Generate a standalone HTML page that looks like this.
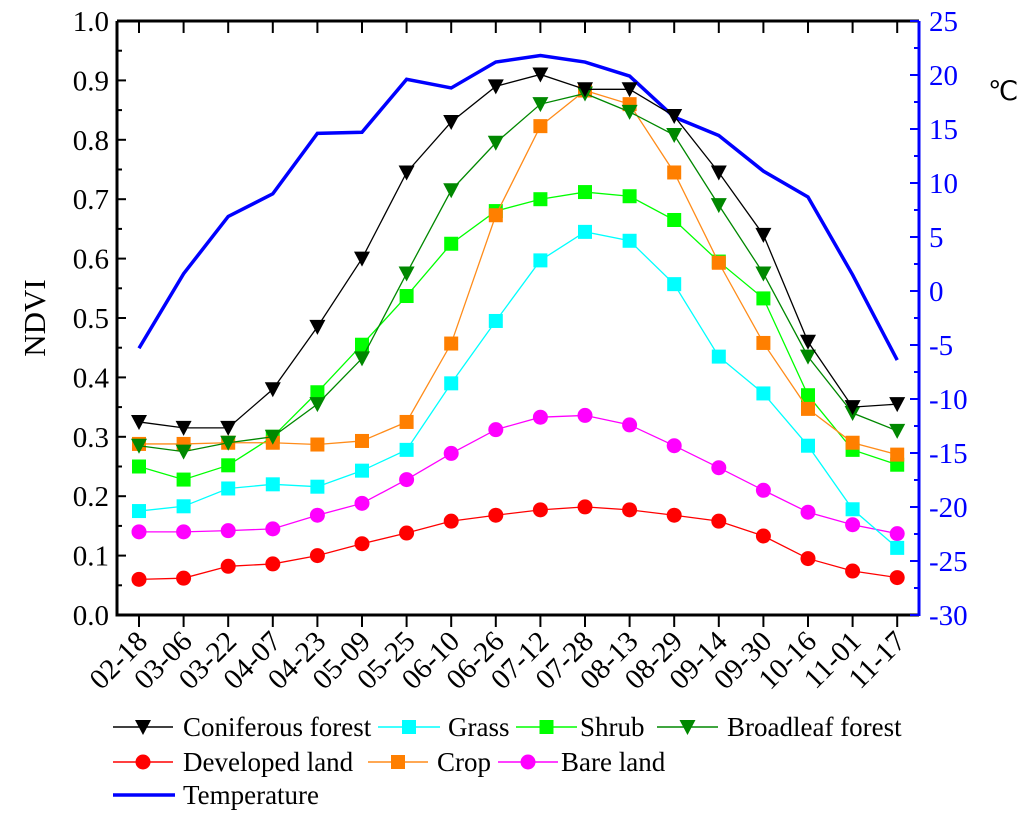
<!DOCTYPE html>
<html><head><meta charset="utf-8"><style>
body{margin:0;background:#fff}
svg, svg text{font-family:"Liberation Serif","Times New Roman",Times,serif}
</style></head><body>
<svg id="chart" width="1024" height="816" viewBox="0 0 1024 816" xmlns="http://www.w3.org/2000/svg" font-family="Liberation Serif, Times New Roman, serif"></svg>
<script>
const categories=["02-18","03-06","03-22","04-07","04-23","05-09","05-25","06-10","06-26","07-12","07-28","08-13","08-29","09-14","09-30","10-16","11-01","11-17"];
const coniferous=[0.325,0.315,0.315,0.38,0.485,0.60,0.745,0.83,0.89,0.91,0.885,0.885,0.84,0.745,0.64,0.46,0.35,0.355];
const grass=[0.175,0.183,0.213,0.22,0.216,0.243,0.278,0.39,0.495,0.597,0.645,0.63,0.557,0.435,0.373,0.285,0.178,0.113];
const shrub=[0.25,0.228,0.252,0.30,0.375,0.455,0.537,0.625,0.68,0.70,0.712,0.705,0.665,0.595,0.533,0.37,0.278,0.253];
const broadleaf=[0.285,0.275,0.29,0.30,0.355,0.432,0.575,0.715,0.795,0.86,0.878,0.847,0.808,0.69,0.575,0.435,0.34,0.31];
const developed=[0.06,0.062,0.082,0.086,0.10,0.12,0.138,0.158,0.168,0.177,0.182,0.177,0.168,0.158,0.133,0.095,0.074,0.063];
const crop=[0.288,0.288,0.29,0.29,0.287,0.293,0.325,0.457,0.673,0.823,0.883,0.86,0.745,0.593,0.458,0.347,0.29,0.27];
const bare=[0.14,0.14,0.142,0.145,0.168,0.188,0.228,0.272,0.312,0.333,0.336,0.32,0.285,0.248,0.21,0.173,0.152,0.137];
const temperature=[-5.3,1.6,6.9,9.0,14.6,14.7,19.6,18.8,21.2,21.8,21.2,19.9,16.1,14.4,11.1,8.7,1.5,-6.4];
const leftTicks=["0.0","0.1","0.2","0.3","0.4","0.5","0.6","0.7","0.8","0.9","1.0"];
const rightTicks=["-30","-25","-20","-15","-10","-5","0","5","10","15","20","25"];

const svg=document.getElementById('chart');
const NS='http://www.w3.org/2000/svg';
const FF='Liberation Serif, Times New Roman, serif';
const L=117,R=919,T=21,B=615;
const x=i=>139+i*44.6;
const y=v=>B-(v/1.0)*(B-T);
const yr=v=>B-((v+30)/55)*(B-T);
function mk(tag,attrs,parent){const e=document.createElementNS(NS,tag);for(const k in attrs)e.setAttribute(k,attrs[k]);if(tag==='text')e.setAttribute('font-family',FF);(parent||svg).appendChild(e);return e;}

const frame=mk('path',{d:`M${L},${T}H${R}M${L},${T}V${B}H${R}`,stroke:'#000','stroke-width':3,fill:'none'});


const rAxis=mk('line',{x1:R,y1:T,x2:R,y2:B+1,stroke:'#00f','stroke-width':3});



leftTicks.forEach((t,i)=>{const v=i/10;const yy=y(v);
 mk('line',{x1:L,y1:yy,x2:L+9,y2:yy,stroke:'#000','stroke-width':2});
 if(i<10){mk('line',{x1:L,y1:y(v+0.05),x2:L+5,y2:y(v+0.05),stroke:'#000','stroke-width':2});}
 const tx=mk('text',{x:L-8,y:yy+10,'text-anchor':'end','font-size':29});tx.textContent=t;
 
 
});
rightTicks.forEach((t,i)=>{const v=-30+i*5;const yy=yr(v);
 mk('line',{x1:R,y1:yy,x2:R-9,y2:yy,stroke:'#00f','stroke-width':2});
 if(i<11){mk('line',{x1:R,y1:yr(v+2.5),x2:R-5,y2:yr(v+2.5),stroke:'#00f','stroke-width':2});}
 const tx=mk('text',{x:R+10,y:yy+10,'font-size':29,fill:'#00f'});tx.textContent=t;
 
 
});
categories.forEach((c,i)=>{const xx=x(i);
 mk('line',{x1:xx,y1:B,x2:xx,y2:B+12,stroke:'#000','stroke-width':2});
 mk('line',{x1:xx,y1:T,x2:xx,y2:T+12,stroke:'#000','stroke-width':2});
 const tx=mk('text',{x:xx+10,y:B+28,'text-anchor':'end','font-size':29,transform:`rotate(-45 ${xx+10} ${B+28})`});tx.textContent=c;
 
 
});
const yl=mk('text',{x:45,y:318,'text-anchor':'middle','font-size':31,transform:'rotate(-90 45 318)'});yl.textContent='NDVI';


const yr2=mk('text',{x:988,y:100,'font-size':27});yr2.textContent='℃';



function marker(type,cx,cy,color,parent){
 if(type==='tri')return mk('path',{d:`M${cx-8},${cy-7}H${cx+8}L${cx},${cy+8}Z`,fill:color},parent);
 if(type==='sq')return mk('rect',{x:cx-7,y:cy-7,width:14,height:14,fill:color},parent);
 return mk('circle',{cx:cx,cy:cy,r:7.5,fill:color},parent);
}
const tp=mk('polyline',{points:temperature.map((v,i)=>x(i)+','+yr(v)).join(' '),fill:'none',stroke:'#00f','stroke-width':3.5});



const series=[
 ['bare-land',bare,'#f0f','#f0f','dot'],
 ['developed-land',developed,'#f00','#f00','dot'],
 ['grass',grass,'#0ff','#0ff','sq'],
 ['shrub',shrub,'#0f0','#0f0','sq'],
 ['crop',crop,'#ff8c1a','#ff7f00','sq'],
 ['broadleaf-forest',broadleaf,'#080','#080','tri'],
 ['coniferous-forest',coniferous,'#000','#000','tri'],
];
series.forEach(([n,d,lc,mc,t])=>{
 const g=mk('g',{});
 
 
 mk('polyline',{points:d.map((v,i)=>x(i)+','+y(v)).join(' '),fill:'none',stroke:lc,'stroke-width':1.3},g);
 d.forEach((v,i)=>{const m=marker(t,x(i),y(v),mc,g);
  
  });
});

const leg=[
 ['Coniferous forest','#000','#000','tri',113,173,183,727],
 ['Grass','#0ff','#0ff','sq',378,440,448,727],
 ['Shrub','#0f0','#0f0','sq',516,577,580,727],
 ['Broadleaf forest','#080','#080','tri',657,718,727,727],
 ['Developed land','#f00','#f00','dot',113,173,183,762],
 ['Crop','#ff8c1a','#ff7f00','sq',368,428,437,762],
 ['Bare land','#f0f','#f0f','dot',498,558,561,762],
 ['Temperature','#00f',null,null,113,175,183,795]];
leg.forEach(([lab,lc,mc,t,x1,x2,tx,yy])=>{
 const g=mk('g',{});
 
 
 mk('line',{x1:x1,y1:yy,x2:x2,y2:yy,stroke:lc,'stroke-width':t?1.5:3.5},g);
 if(t)marker(t,(x1+x2)/2,yy,mc,g);
 const te=mk('text',{x:tx,y:yy+9,'font-size':27},g);te.textContent=lab;
});
</script>
</body></html>
